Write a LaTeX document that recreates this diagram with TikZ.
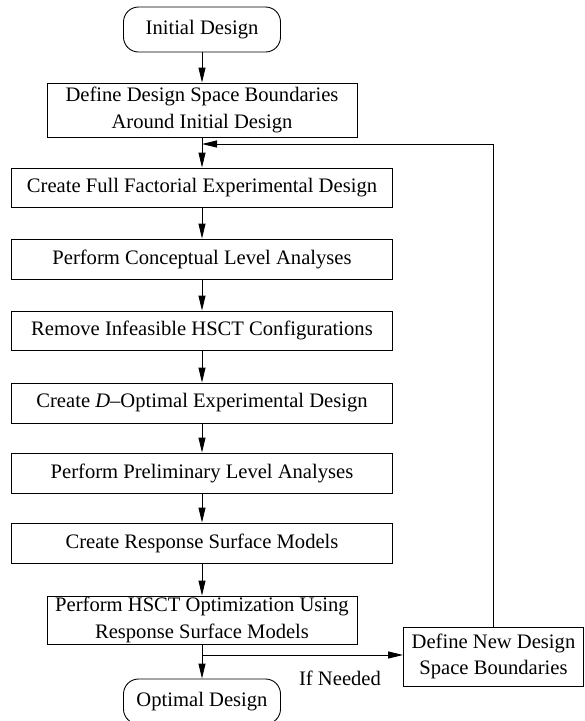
\documentclass[tikz,border=0pt]{standalone}
\usepackage{fontspec}
\setmainfont{Liberation Serif}
\usetikzlibrary{arrows.meta}
\begin{document}
\begin{tikzpicture}[x=1pt,y=-1pt,
  every node/.style={font=\fontsize{20.6}{26.5}\selectfont},
  stepbox/.style={draw, line width=0.9pt, inner sep=0pt, align=center,
    minimum width=381pt, minimum height=40pt},
  widebox/.style={stepbox, minimum width=310pt},
  termbox/.style={draw, line width=0.9pt, rounded corners=15pt, inner sep=0pt,
    minimum width=157pt, minimum height=45pt},
  flow/.style={line width=0.9pt, -{Triangle[length=15pt,width=7pt]}}]
\useasboundingbox (0,0) rectangle (585,721);

% main chain of steps
\node[termbox] (init) at (202,29.5) {Initial Design};
\node[widebox, minimum height=54pt] (def) at (202,110)
  {Define Design Space Boundaries\\Around Initial Design};
\node[stepbox, minimum height=39pt] (ff) at (202,187.5)
  {Create Full Factorial Experimental Design};
\node[stepbox] (conc) at (202,259) {Perform Conceptual Level Analyses};
\node[stepbox, minimum height=39pt] (remv) at (202,330.5)
  {Remove Infeasible HSCT Configurations};
\node[stepbox] (dopt) at (202,403)
  {Create \textit{D}--Optimal Experimental Design};
\node[stepbox] (prel) at (202,473) {Perform Preliminary Level Analyses};
\node[stepbox] (resp) at (202,543) {Create Response Surface Models};
\node[widebox, minimum height=48pt] (hsct) at (202,620)
  {Perform HSCT Optimization Using\\Response Surface Models};
\node[termbox] (opt) at (202,701.5) {Optimal Design};

% side branch for redefining the design space
\node[draw, line width=0.9pt, inner sep=0pt, align=center,
  minimum width=180pt, minimum height=59pt] (newb) at (493.5,656.5)
  {Define New Design\\Space Boundaries};
\node (needed) at (340,678) {If Needed};

\coordinate (join) at (202,144);
\coordinate (split) at (202,655);

\draw[flow] (init) -- (def);
\draw[flow] (def) -- (ff);
\draw[flow] (ff) -- (conc);
\draw[flow] (conc) -- (remv);
\draw[flow] (remv) -- (dopt);
\draw[flow] (dopt) -- (prel);
\draw[flow] (prel) -- (resp);
\draw[flow] (resp) -- (hsct);
\draw[flow] (hsct) -- (opt);
\draw[flow] (split) -- (split -| newb.west);
\draw[flow] (newb.north) |- (join);
\end{tikzpicture}
\end{document}
